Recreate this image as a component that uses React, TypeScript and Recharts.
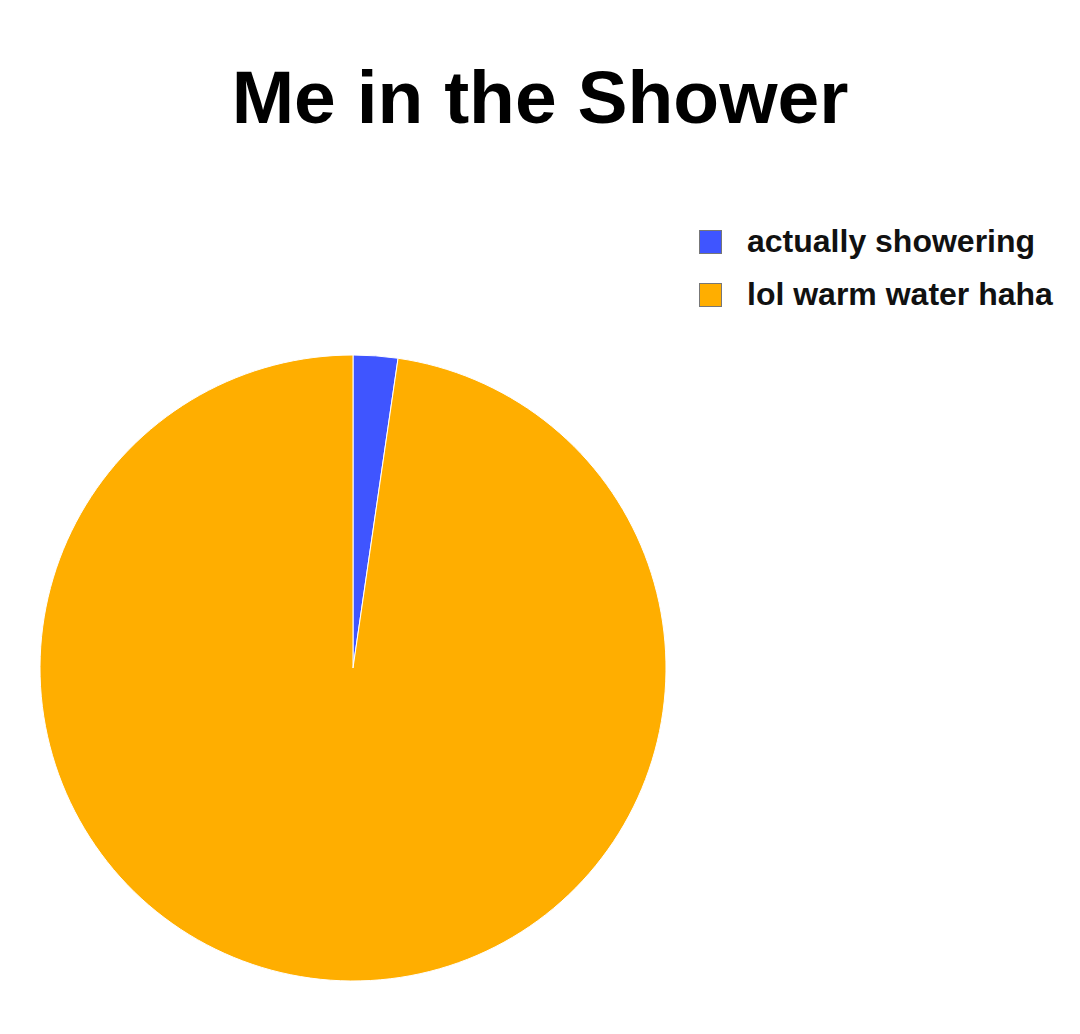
import { PieChart, Pie, Cell, Legend } from "recharts";

const categories = ["actually showering", "lol warm water haha"];
const shares = [2.3, 97.7];
const colors = ["#3f55ff", "#ffae00"];

const data = categories.map((name, i) => ({ name, value: shares[i] }));

const LegendBox = () => (
  <div style={{ fontFamily: "'Liberation Sans', Arial, sans-serif", fontWeight: 700, fontSize: 32, color: "#111" }}>
    {categories.map((name, i) => (
      <div key={name} style={{ display: "flex", alignItems: "center", height: 53 }}>
        <span
          style={{
            display: "inline-block",
            width: 21,
            height: 22,
            background: colors[i],
            border: "1px solid #777",
            marginRight: 25,
          }}
        />
        <span>{name}</span>
      </div>
    ))}
  </div>
);

export default function App() {
  return (
    <div style={{ position: "absolute", left: 0, top: 0, width: 1080, height: 1034, background: "#fff" }}>
      <div
        style={{
          position: "absolute",
          left: 0,
          top: 52,
          width: 1080,
          textAlign: "center",
          fontFamily: "'Liberation Sans', Arial, sans-serif",
          fontWeight: 700,
          fontSize: 75,
          color: "#000",
          lineHeight: "90px",
        }}
      >
        Me in the Shower
      </div>
      <PieChart width={1080} height={1034} margin={{ top: 0, right: 0, bottom: 0, left: 0 }}>
        <Pie
          data={data}
          dataKey="value"
          nameKey="name"
          cx={353}
          cy={668}
          outerRadius={313}
          startAngle={90}
          endAngle={-270}
          stroke="#ffffff"
          strokeWidth={1}
          isAnimationActive={false}
        >
          {data.map((d, i) => (
            <Cell key={d.name} fill={colors[i]} />
          ))}
        </Pie>
        <Legend
          content={<LegendBox />}
          layout="vertical"
          wrapperStyle={{ position: "absolute", left: 699, top: 215, width: 380 }}
        />
      </PieChart>
    </div>
  );
}
